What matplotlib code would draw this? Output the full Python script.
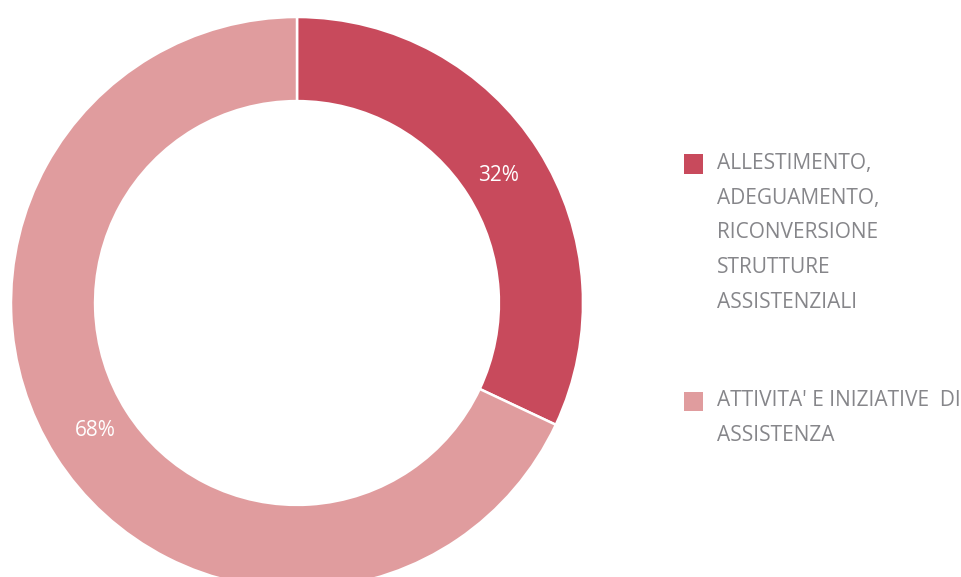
"""Donut chart: ripartizione interventi di assistenza."""

import matplotlib.pyplot as plt
from matplotlib.patches import Rectangle

CATEGORIES = [
    "ALLESTIMENTO,\nADEGUAMENTO,\nRICONVERSIONE\nSTRUTTURE\nASSISTENZIALI",
    "ATTIVITA' E INIZIATIVE  DI\nASSISTENZA",
]
SHARES = [32, 68]
COLORS = ["#C84A5C", "#E09C9E"]
TEXT_GREY = "#86868A"

FONT = ["Open Sans", "DejaVu Sans"]


def main():
    plt.rcParams["font.family"] = FONT
    fig = plt.figure(figsize=(9.62, 5.77), dpi=100)
    W, H = 962, 577

    # donut: centre (297, 303) px, outer radius 286 px
    cx, cy, r = 297, 303, 286
    ax = fig.add_axes([(cx - r) / W, (H - cy - r) / H, 2 * r / W, 2 * r / H])
    ax.pie(
        SHARES,
        colors=COLORS,
        startangle=90,
        counterclock=False,
        radius=1.0,
        autopct="%1.0f%%",
        pctdistance=0.835,
        wedgeprops=dict(width=0.294, edgecolor="white", linewidth=1.8),
        textprops=dict(color="white", fontsize=15),
    )
    ax.set_xlim(-1, 1)
    ax.set_ylim(-1, 1)
    ax.set_aspect("equal")
    ax.axis("off")

    # manual legend, square aligned with first text line
    line_px = 34.5
    block_tops = [164, 401]
    for label, color, y0 in zip(CATEGORIES, COLORS, block_tops):
        sq = 19
        fig.add_artist(
            Rectangle(
                (684 / W, (H - y0 - sq / 2) / H),
                sq / W,
                sq / H,
                transform=fig.transFigure,
                facecolor=color,
                edgecolor="none",
            )
        )
        for i, line in enumerate(label.split("\n")):
            fig.text(
                717 / W,
                (H - y0 - i * line_px) / H,
                line,
                color=TEXT_GREY,
                fontsize=15,
                va="center",
                ha="left",
            )

    fig.savefig("out.png", dpi=100)
    plt.close(fig)


if __name__ == "__main__":
    main()
